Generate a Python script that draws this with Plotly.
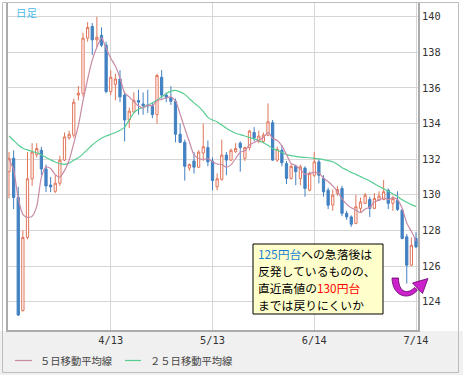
import plotly.graph_objects as go
import pandas as pd

# ---------------- data ----------------
DATES = [d.strftime("%Y-%m-%d") for d in pd.bdate_range("2016-03-14", periods=89)]

OPEN = [131.3, 132.05, 129.85, 123.5, 127.6, 130.9, 132.25, 132.5, 131.45, 130.55,
        130.2, 130.65, 131.95, 133.2, 133.35, 135.6, 135.7, 138.8, 139.45, 138.7,
        138.95, 138.4, 135.8, 136.2, 136.5, 135.6, 134.2, 134.65, 135.3, 135.1,
        135.05, 135.0, 134.5, 136.6, 135.6, 135.45, 135.25, 133.4, 132.95, 131.5,
        131.9, 131.55, 132.35, 132.65, 131.9, 130.45, 130.87, 132.23, 131.95, 132.42,
        132.9, 132.05, 132.65, 133.5, 133.0, 133.0, 133.35, 134.05, 131.95, 132.5,
        131.76, 130.92, 131.6, 130.92, 131.5, 130.26, 131.1, 131.85, 130.92, 130.26,
        129.42, 130.08, 130.36, 128.96, 128.76, 128.4, 129.24, 129.52, 129.74, 129.24,
        129.7, 129.74, 130.26, 129.52, 129.7, 129.14, 127.64, 126.05, 127.55]
HIGH = [132.4, 132.5, 130.45, 128.0, 132.4, 132.9, 132.9, 132.7, 131.7, 131.0,
        131.1, 132.2, 133.5, 133.6, 135.4, 136.1, 139.1, 139.7, 139.65, 140.0,
        139.4, 138.6, 137.0, 136.8, 137.0, 135.75, 134.9, 135.75, 135.9, 135.75,
        135.9, 135.2, 136.8, 137.0, 135.75, 136.1, 135.4, 134.0, 133.1, 131.75,
        132.4, 132.5, 134.0, 133.05, 132.1, 131.2, 133.1, 132.4, 132.6, 132.9,
        133.0, 132.7, 133.65, 133.8, 133.6, 133.5, 135.13, 134.2, 132.7, 132.8,
        131.9, 131.7, 131.7, 131.7, 131.6, 131.3, 132.4, 132.0, 131.1, 130.4,
        130.3, 130.5, 130.5, 129.1, 128.85, 130.0, 129.85, 130.1, 129.9, 130.1,
        130.2, 130.83, 130.35, 129.95, 130.2, 129.2, 127.8, 127.6, 127.9]
LOW = [129.8, 129.2, 123.2, 123.45, 127.5, 130.5, 132.1, 131.1, 130.15, 130.15,
       130.1, 130.5, 131.9, 133.1, 133.2, 135.3, 135.5, 138.6, 137.85, 138.3,
       138.3, 135.7, 135.6, 135.3, 135.2, 133.0, 133.75, 134.6, 134.5, 134.5,
       134.6, 134.3, 134.0, 135.4, 135.2, 135.05, 132.95, 132.9, 130.8, 131.35,
       131.2, 131.5, 131.9, 131.6, 130.25, 130.25, 130.8, 131.1, 131.9, 132.35,
       131.3, 131.9, 132.5, 133.0, 132.9, 132.9, 133.3, 131.9, 131.85, 131.6,
       130.6, 130.85, 130.54, 130.54, 129.89, 130.2, 131.0, 130.64, 129.9, 129.2,
       129.1, 129.95, 128.8, 128.6, 128.2, 128.35, 129.0, 129.5, 128.76, 129.2,
       129.65, 129.7, 129.2, 129.1, 129.1, 127.5, 125.02, 126.0, 127.0]
CLOSE = [132.05, 129.85, 123.25, 127.6, 130.9, 132.4, 132.6, 131.45, 130.5, 130.45,
         130.65, 131.95, 133.25, 133.4, 135.2, 135.7, 138.8, 139.4, 138.7, 138.85,
         138.4, 135.8, 136.6, 136.5, 135.5, 134.2, 134.7, 135.3, 135.2, 135.0,
         135.0, 134.5, 136.7, 135.6, 135.45, 135.25, 133.4, 132.95, 131.6, 131.7,
         131.55, 132.4, 132.7, 131.85, 130.8, 130.9, 132.23, 131.95, 132.5, 132.6,
         132.65, 132.65, 133.58, 133.2, 133.3, 133.35, 134.1, 131.95, 132.55, 131.8,
         130.92, 131.6, 131.3, 131.57, 130.36, 131.2, 131.85, 131.1, 130.17, 129.42,
         129.98, 130.3, 128.96, 128.76, 128.35, 129.33, 129.6, 129.98, 129.24, 129.8,
         129.93, 130.17, 129.52, 129.8, 129.18, 127.55, 126.05, 127.17, 127.08]

MA5 = [132.0, 131.4, 129.8, 128.9, 128.73, 128.8, 129.35, 130.99, 131.57, 131.48,
       131.13, 131.0, 131.36, 131.94, 132.89, 133.9, 135.27, 136.5, 137.56, 138.29,
       138.83, 138.23, 137.67, 137.23, 136.56, 135.72, 135.5, 135.24, 134.98, 134.88,
       135.04, 135.0, 135.28, 135.36, 135.45, 135.5, 135.28, 134.53, 133.73, 132.98,
       132.24, 132.04, 131.99, 132.04, 131.86, 131.73, 131.7, 131.55, 131.68, 132.04,
       132.39, 132.47, 132.8, 132.94, 133.08, 133.22, 133.51, 133.18, 133.05, 132.75,
       132.26, 131.76, 131.63, 131.44, 131.15, 131.21, 131.26, 131.22, 130.94, 130.75,
       130.5, 130.19, 129.77, 129.48, 129.27, 129.14, 129.0, 129.2, 129.3, 129.59,
       129.71, 129.82, 129.73, 129.84, 129.72, 129.24, 128.42, 127.95, 127.41]
MA25 = [133.3, 133.05, 132.8, 132.62, 132.52, 132.44, 132.36, 132.24, 132.1, 131.96,
        131.84, 131.75, 131.71, 131.78, 131.94, 132.08, 132.3, 132.55, 132.8, 133.0,
        133.18, 133.3, 133.4, 133.5, 133.62, 133.8, 134.2, 134.6, 134.8, 134.92,
        135.04, 135.16, 135.32, 135.5, 135.68, 135.82, 135.86, 135.78, 135.64, 135.4,
        135.16, 134.95, 134.68, 134.35, 134.2, 134.1, 133.92, 133.74, 133.58, 133.46,
        133.38, 133.3, 133.22, 133.14, 133.04, 132.92, 132.78, 132.6, 132.5, 132.38,
        132.26, 132.2, 132.16, 132.12, 132.1, 132.08, 132.05, 132.02, 131.98, 131.92,
        131.86, 131.72, 131.52, 131.4, 131.26, 131.15, 131.02, 130.9, 130.78, 130.62,
        130.48, 130.34, 130.2, 130.05, 129.9, 129.72, 129.58, 129.45, 129.35]

TICK_DATES = ["2016-04-13", "2016-05-13", "2016-06-14", "2016-07-14"]
TICK_LABELS = ["4/13", "5/13", "6/14", "7/14"]
Y_TICKS = [124, 126, 128, 130, 132, 134, 136, 138, 140]

LEGEND_NAMES = ["５日移動平均線", "２５日移動平均線"]
NOTE_LINES = [
    "<span style='color:#1a7fd4'>125円台</span>への急落後は",
    "反発しているものの、",
    "直近高値の<span style='color:#ff0000'>130円台</span>",
    "までは戻りにくいか",
]
TITLE = "日足"

# ---------------- styles ----------------
W, H = 463, 375
PL, PR, PT, PB = 8, 418, 3, 330
RED = "#e2755b"
BLUE = "#4281c2"
PINK = "#c98aa6"
GREEN = "#58cd92"
JP = "Noto Sans CJK JP"


def fx(p):
    return (p - PL) / (PR - PL)


def fy(p):
    return (PB - p) / (PB - PT)


fig = go.Figure()
fig.add_trace(go.Candlestick(
    x=DATES, open=OPEN, high=HIGH, low=LOW, close=CLOSE,
    increasing=dict(line=dict(color=RED, width=1), fillcolor="white"),
    decreasing=dict(line=dict(color=BLUE, width=1), fillcolor=BLUE),
    hoverinfo="skip",
))
fig.add_trace(go.Scatter(x=DATES, y=MA25, mode="lines",
                         line=dict(color=GREEN, width=1.2, shape="spline", smoothing=0.6),
                         hoverinfo="skip"))
fig.add_trace(go.Scatter(x=DATES, y=MA5, mode="lines",
                         line=dict(color=PINK, width=1.2, shape="spline", smoothing=0.6),
                         hoverinfo="skip"))

shapes = []
# bottom grey strip
shapes.append(dict(type="rect", xref="paper", yref="paper", layer="below",
                   x0=fx(0), x1=fx(W), y0=fy(PB + 1), y1=fy(H),
                   fillcolor="#f0f0f0", line=dict(width=0)))
# outer frame
shapes.append(dict(type="rect", xref="paper", yref="paper",
                   x0=fx(2.5), x1=fx(458.5), y0=fy(372.5), y1=fy(2.5),
                   line=dict(color="#bdbdbd", width=1)))
# legend swatches
shapes.append(dict(type="line", xref="paper", yref="paper",
                   x0=fx(15), x1=fx(32), y0=fy(360.5), y1=fy(360.5),
                   line=dict(color=PINK, width=1.2)))
shapes.append(dict(type="line", xref="paper", yref="paper",
                   x0=fx(125), x1=fx(141), y0=fy(360.5), y1=fy(360.5),
                   line=dict(color=GREEN, width=1.2)))
# note box
shapes.append(dict(type="rect", xref="paper", yref="paper",
                   x0=fx(253), x1=fx(383), y0=fy(314), y1=fy(244),
                   fillcolor="#ffffcc", line=dict(color="#000000", width=1)))


def pth(points_cmds):
    out = []
    for cmd, pts in points_cmds:
        coords = " ".join(f"{fx(a):.5f},{fy(b):.5f}" for a, b in pts)
        out.append(f"{cmd}{coords}")
    return " ".join(out) + " Z"


arc = pth([("M", [(392, 278)]),
           ("C", [(392.5, 297), (409, 301), (417.5, 290)]),
           ("L", [(414.5, 287.5)]),
           ("C", [(408, 294.5), (398.5, 293), (398.5, 278)])])
head = pth([("M", [(412.5, 283)]), ("L", [(428, 278.5)]), ("L", [(422.5, 293.5)])])
for p in (arc, head):
    shapes.append(dict(type="path", xref="paper", yref="paper", path=p,
                       fillcolor="#cc22cc", line=dict(color="#6a006a", width=0.8)))

annotations = []
annotations.append(dict(xref="paper", yref="paper", x=fx(14), y=fy(13),
                        xanchor="left", yanchor="middle", showarrow=False,
                        text=TITLE, font=dict(family=JP, size=10.5, color="#4bbbe8")))
annotations.append(dict(xref="paper", yref="paper", x=fx(38), y=fy(360.5),
                        xanchor="left", yanchor="middle", showarrow=False,
                        text=LEGEND_NAMES[0], font=dict(family=JP, size=10.3, color="#444444")))
annotations.append(dict(xref="paper", yref="paper", x=fx(148), y=fy(360.5),
                        xanchor="left", yanchor="middle", showarrow=False,
                        text=LEGEND_NAMES[1], font=dict(family=JP, size=10.3, color="#444444")))
line_y = [253.5, 270.5, 287.5, 304.5]
for txt, ly in zip(NOTE_LINES, line_y):
    annotations.append(dict(xref="paper", yref="paper", x=fx(255.5), y=fy(ly),
                            xanchor="left", yanchor="middle", showarrow=False,
                            text=txt, font=dict(family=JP, size=11.8, color="#000000")))

fig.update_layout(
    width=W, height=H,
    margin=dict(l=PL, r=W - PR, t=PT, b=H - PB),
    paper_bgcolor="white", plot_bgcolor="white",
    showlegend=False, hovermode=False, dragmode=False,
    shapes=shapes, annotations=annotations,
    xaxis=dict(type="category", range=[-0.216, 88.43], rangeslider=dict(visible=False),
               tickmode="array", tickvals=TICK_DATES, ticktext=TICK_LABELS,
               showgrid=True, gridcolor="#d6d6d6", gridwidth=1,
               showline=True, linecolor="#ababab", linewidth=2,
               ticks="", zeroline=False, fixedrange=True,
               tickfont=dict(family="DejaVu Sans Mono", size=10.3, color="#333333")),
    yaxis=dict(side="right", range=[122.41, 140.77],
               tickmode="array", tickvals=Y_TICKS,
               showgrid=True, gridcolor="#d6d6d6", gridwidth=1,
               showline=True, mirror=True, linecolor="#ababab", linewidth=2,
               ticks="", zeroline=False, fixedrange=True,
               tickfont=dict(family="DejaVu Sans Mono", size=10.3, color="#333333")),
)

fig.write_html("out.html", config={"displayModeBar": False, "staticPlot": True},
               post_script="document.body.style.margin='0px';")
